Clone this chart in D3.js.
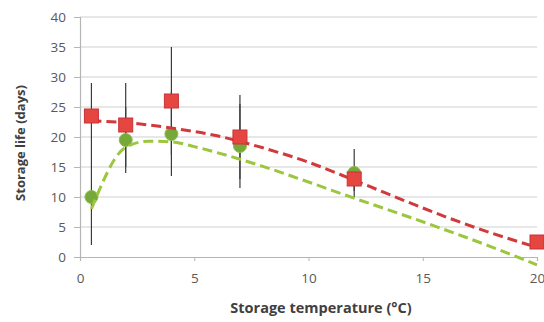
<!DOCTYPE html>
<html>
<head>
<meta charset="utf-8">
<script src="https://cdn.jsdelivr.net/npm/d3@7/dist/d3.min.js"></script>
<style>
  body { margin: 0; background: #fff; }
  text { font-family: "Open Sans", "Liberation Sans", sans-serif; }
</style>
</head>
<body>
<svg id="canvas" width="544" height="322"></svg>
<script>
// red series: measured points (temperature, storage life, error)
let redTemps = [0.5, 2, 4, 7, 12, 20]
let redLife = [23.5, 22, 26, 20, 13, 2.5]
let redErr = [5.5, 7, 9, 7, 2, 0]
// green series
let greenTemps = [0.5, 2, 4, 7, 12]
let greenLife = [10, 19.5, 20.5, 18.5, 14]
let greenErr = [8, 5.5, 7, 7, 4]

// trend lines
let redTrendX = [0.5, 2, 4, 6, 8, 10, 12, 14, 16, 18, 20]
let redTrendY = [22.7, 22.4, 21.5, 20.2, 18.2, 15.8, 12.8, 9.7, 6.7, 4.0, 1.6]
let greenTrendX = [0.5, 1, 1.5, 2, 3, 4, 5, 6, 8, 10, 12, 14, 16, 18, 20]
let greenTrendY = [8.0, 12.5, 16.2, 18.3, 19.3, 19.2, 18.4, 17.4, 15.1, 12.5, 9.8, 7.2, 4.5, 1.7, -1.3]

let xTicks = [0, 5, 10, 15, 20]
let yTicks = [0, 5, 10, 15, 20, 25, 30, 35, 40]

let canvas = d3.select('#canvas')

function drawChart() {
    let x = d3.scaleLinear().domain([0, 20]).range([80, 537])
    let y = d3.scaleLinear().domain([0, 40]).range([257, 17])

    // grid
    canvas.selectAll('.grid')
        .data(yTicks.filter(d => d > 0))
        .enter()
        .append('line')
        .attr('x1', 80).attr('x2', 537)
        .attr('y1', d => y(d)).attr('y2', d => y(d))
        .attr('stroke', '#cfcfcf')
        .attr('stroke-width', 1.2)

    // y axis
    let yAxis = canvas.append('g')
        .attr('transform', 'translate(80,0)')
        .call(d3.axisLeft(y).tickValues(yTicks).tickSize(6).tickPadding(8))
    yAxis.select('.domain').attr('stroke', '#b5b5b5').attr('stroke-width', 1.2)
    yAxis.selectAll('.tick line').attr('stroke', '#b5b5b5')
    yAxis.selectAll('text').attr('fill', '#595959').style('font-size', '13.5px')

    // x axis
    let xAxis = canvas.append('g')
        .attr('transform', 'translate(0,257)')
        .call(d3.axisBottom(x).tickValues(xTicks).tickSize(4).tickPadding(12))
    xAxis.select('.domain').attr('stroke', '#b5b5b5').attr('stroke-width', 1.2)
    xAxis.selectAll('.tick line').attr('stroke', '#b5b5b5')
    xAxis.selectAll('text').attr('fill', '#595959').style('font-size', '13.5px')

    let red = redTemps.map((t, i) => ({t: t, v: redLife[i], e: redErr[i]}))
    let green = greenTemps.map((t, i) => ({t: t, v: greenLife[i], e: greenErr[i]}))

    // error bars
    canvas.selectAll('.err')
        .data(green.concat(red).filter(d => d.e > 0))
        .enter()
        .append('line')
        .attr('x1', d => x(d.t)).attr('x2', d => x(d.t))
        .attr('y1', d => y(d.v - d.e)).attr('y2', d => y(d.v + d.e))
        .attr('stroke', '#3a3a3a').attr('stroke-width', 1.2)

    let line = d3.line()
        .x(d => x(d[0]))
        .y(d => y(d[1]))
        .curve(d3.curveMonotoneX)

    // green markers
    canvas.selectAll('.gm')
        .data(green)
        .enter()
        .append('circle')
        .attr('cx', d => x(d.t)).attr('cy', d => y(d.v))
        .attr('r', 6.5)
        .attr('fill', '#76a83a')
        .attr('stroke', '#8cbf4a').attr('stroke-width', 1)

    // trend lines
    canvas.append('path')
        .attr('d', line(greenTrendX.map((t, i) => [t, greenTrendY[i]])))
        .attr('fill', 'none')
        .attr('stroke', '#9cc63d')
        .attr('stroke-width', 3)
        .attr('stroke-dasharray', '10,5')
    canvas.append('path')
        .attr('d', line(redTrendX.map((t, i) => [t, redTrendY[i]])))
        .attr('fill', 'none')
        .attr('stroke', '#d2393b')
        .attr('stroke-width', 3)
        .attr('stroke-dasharray', '10,5')

    // red markers
    canvas.selectAll('.rm')
        .data(red)
        .enter()
        .append('rect')
        .attr('x', d => x(d.t) - 7).attr('y', d => y(d.v) - 7)
        .attr('width', 14).attr('height', 14)
        .attr('fill', '#e5463f')
        .attr('stroke', '#c8323a').attr('stroke-width', 1)

    // axis titles
    canvas.append('text')
        .attr('x', 321).attr('y', 313)
        .attr('text-anchor', 'middle')
        .attr('fill', '#404040')
        .style('font-size', '14.5px').style('font-weight', 'bold')
        .text('Storage temperature (°C)')
    canvas.append('text')
        .attr('transform', 'translate(25,143) rotate(-90)')
        .attr('text-anchor', 'middle')
        .attr('fill', '#404040')
        .style('font-size', '13px').style('font-weight', 'bold')
        .text('Storage life (days)')
}

window.onload = drawChart
</script>
</body>
</html>
